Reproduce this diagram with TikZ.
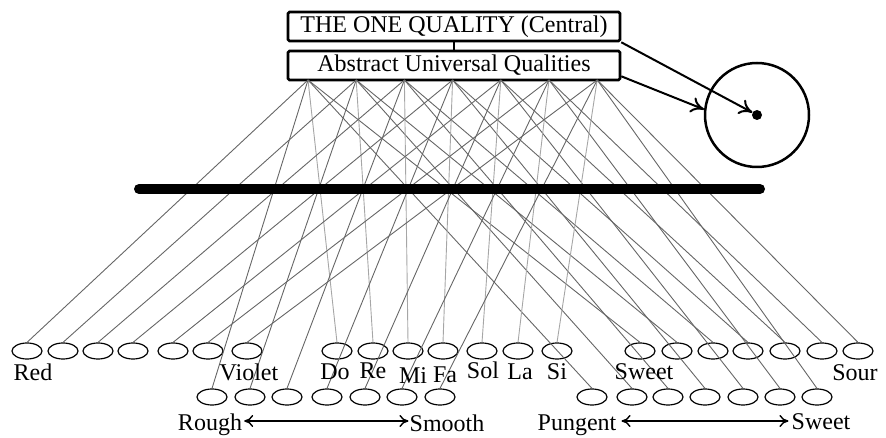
\documentclass[tikz,border=0pt]{standalone}
\usepackage{fontspec}
\setmainfont{Liberation Serif}
\usetikzlibrary{arrows.meta,shapes.geometric}

\begin{document}
\begin{tikzpicture}[x=1pt,y=-1pt]
  % Colors
  \colorlet{wiregrey}{black!60}
  \colorlet{lightwire}{black!35}

  % Styles
  \tikzstyle{quality box}=[draw, line width=2.6pt, rounded corners=1.5pt,
    minimum width=332pt, minimum height=29pt, inner sep=0pt,
    font=\fontsize{24}{27}\selectfont]
  \tikzstyle{sense}=[draw, ellipse, line width=1.2pt, minimum width=30pt,
    minimum height=16pt, inner sep=0pt]
  \tikzstyle{wire}=[draw=wiregrey, line width=0.9pt]
  \tikzstyle{label}=[font=\fontsize{24}{27}\selectfont, inner sep=0pt, anchor=base]
  \tikzstyle{pointer}=[line width=2pt,
    -{Computer Modern Rightarrow[length=13pt,width=16pt]}]
  \tikzstyle{scale arrow}=[line width=1.4pt,
    {Computer Modern Rightarrow[length=9pt,width=12pt]}-{Computer Modern Rightarrow[length=9pt,width=12pt]}]

  \useasboundingbox (0,0) rectangle (886,438);

  % The graphic
  \node[quality box] (one) at (454,26.5) {THE ONE QUALITY (Central)};
  \node[quality box] (abstract) at (454,65.5) {Abstract Universal Qualities};
  \draw[line width=2pt] (one) -- (abstract);

  % hubs under the abstract box
  \foreach \i in {1,...,7}
    \coordinate (h\i) at ({308+48.2*(\i-1)},80);

  % first row: colours, notes, tastes
  \foreach \x [count=\i] in {27,63,98,133,173,208,247}
    \node[sense] (c\i) at (\x,351) {};
  \foreach \x [count=\i] in {337,373,408,443,482,518,557}
    \node[sense] (n\i) at (\x,351) {};
  \foreach \x [count=\i] in {640,677,713,748,785,822,858}
    \node[sense] (t\i) at (\x,351) {};

  % second row: rough/smooth, pungent/sweet
  \foreach \x [count=\i] in {212,250,287,327,365,402,440}
    \node[sense] (r\i) at (\x,397) {};
  \foreach \x [count=\i] in {592,632,668,705,743,780,817}
    \node[sense] (p\i) at (\x,397) {};

  % wires
  \foreach \i in {1,...,7} {
    \draw[wire] (h\i) -- (c\i.north);
    \draw[wire, draw=lightwire] (h\i) -- (n\i.north);
    \draw[wire] (h\i) -- (t\i.north);
    \draw[wire] (h\i) -- (r\i.north);
    \draw[wire] (h\i) -- (p\i.north);
  }

  % the bar
  \coordinate (bar west) at (139,189);
  \coordinate (bar east) at (760,189);
  \draw[line width=10pt, line cap=round] (bar west) -- (bar east);

  % the centre
  \node[draw, circle, line width=2.5pt, minimum size=104pt] (ring) at (757,115) {};
  \node[fill, circle, minimum size=10pt, inner sep=0pt] (dot) at (757,115) {};
  \draw[pointer] (one.south east) -- (dot);
  \draw[pointer] ([yshift=5pt]abstract.south east) -- (ring.174);

  % labels
  \node[label] (red) at (33,380) {Red};
  \node[label] (violet) at (249,380) {Violet};
  \foreach \x/\name/\y in {335/Do/379, 373/Re/378, 413/Mi/383, 445/Fa/382,
                           483/Sol/378, 520/La/379, 557/Si/379}
    \node[label] (l\name) at (\x,\y) {\name};
  \node[label] (sweet) at (644,379) {Sweet};
  \node[label] (sour) at (855,380) {Sour};

  \node[label] (rough) at (210,430) {Rough};
  \node[label] (smooth) at (447,431) {Smooth};
  \node[label] (pungent) at (577,430) {Pungent};
  \node[label] (sweeter) at (821,429) {Sweet};
  \draw[scale arrow] ([xshift=2pt,yshift=9pt]rough.base east) -- ([xshift=-1pt,yshift=10pt]smooth.base west);
  \draw[scale arrow] ([xshift=5pt,yshift=9pt]pungent.base east) -- ([xshift=-3pt,yshift=8pt]sweeter.base west);
\end{tikzpicture}
\end{document}
